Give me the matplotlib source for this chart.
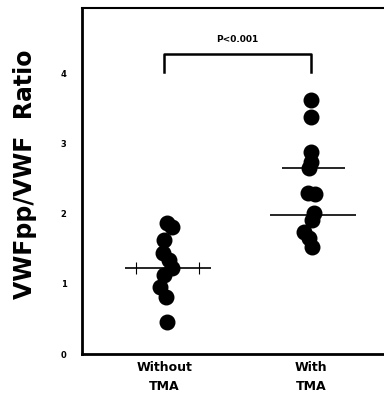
import matplotlib.pyplot as plt

# data
groups = ['Without\nTMA', 'With\nTMA']
without_vals = [1.87, 1.81, 1.63, 1.44, 1.34, 1.23, 1.13, 0.96, 0.81, 0.46]
without_jit = [0.02, 0.05, 0.0, -0.01, 0.03, 0.05, 0.0, -0.03, 0.01, 0.02]
with_vals = [3.63, 3.39, 2.89, 2.74, 2.66, 2.30, 2.28, 2.01, 1.91, 1.74, 1.66, 1.53]
with_jit = [0.0, 0.0, 0.0, 0.0, -0.01, -0.02, 0.03, 0.02, 0.01, -0.05, -0.01, 0.01]
without_mean = 1.23
with_lines = [2.66, 1.99]

fig = plt.figure(figsize=(3.84, 3.97), dpi=100)
ax = fig.add_axes([82 / 384, 43 / 397, 1.02 - 82 / 384, 346 / 397])

ax.scatter([1 + j for j in without_jit], without_vals, s=110, color='black', zorder=3)
ax.scatter([2 + j for j in with_jit], with_vals, s=110, color='black', zorder=3)

# mean / median lines
ax.hlines(without_mean, 0.73, 1.32, color='black', lw=1.2)
ax.vlines([0.81, 1.24], without_mean - 0.09, without_mean + 0.09, color='black', lw=0.8)
ax.hlines(with_lines[0], 1.80, 2.23, color='black', lw=1.2)
ax.hlines(with_lines[1], 1.72, 2.31, color='black', lw=1.2)

# significance bracket
ax.plot([1, 1, 2, 2], [4.03, 4.29, 4.29, 4.03], color='black', lw=1.8)
ax.text(1.5, 4.49, 'P<0.001', ha='center', va='center', fontsize=6.5, fontweight='bold')

ax.set_xlim(0.44, 2.55)
ax.set_ylim(0, 4.94)
ax.set_yticks([0, 1, 2, 3, 4])
ax.set_yticklabels(['0', '1', '2', '3', '4'], fontsize=6, fontweight='bold')
ax.tick_params(axis='y', length=0, pad=11)
ax.set_xticks([1, 2])
ax.set_xticklabels(groups, fontsize=9, fontweight='bold', linespacing=1.6)
ax.tick_params(axis='x', length=0, pad=5)
ax.set_ylabel('VWFpp/VWF  Ratio', fontsize=17, fontweight='bold')
ax.yaxis.set_label_coords(-0.145, 0.52)

ax.spines['left'].set_linewidth(2)
ax.spines['bottom'].set_linewidth(2)
ax.spines['top'].set_linewidth(1.5)

fig.savefig('out.png', dpi=100)
